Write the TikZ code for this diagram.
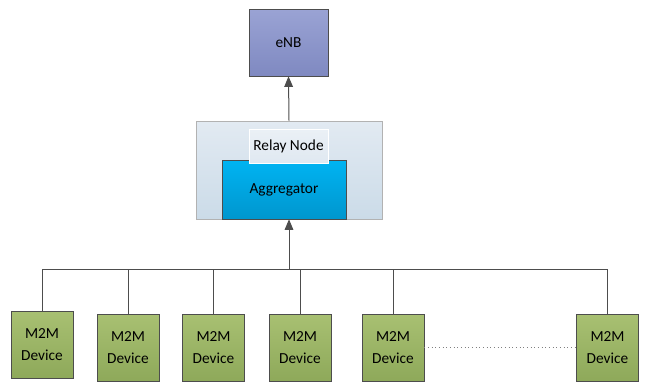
\documentclass[tikz,border=0pt]{standalone}
\usepackage{fontspec}
\setmainfont{Carlito}
\usetikzlibrary{arrows.meta}
\definecolor{linegray}{HTML}{4D4D4D}
\definecolor{enbtop}{HTML}{9AA3D4}
\definecolor{enbbot}{HTML}{7F89C1}
\definecolor{relaytop}{HTML}{E2EAF2}
\definecolor{relaybot}{HTML}{CBDBE8}
\definecolor{aggtop}{HTML}{00B4F2}
\definecolor{aggbot}{HTML}{0096CE}
\definecolor{devtop}{HTML}{A8C072}
\definecolor{devbot}{HTML}{8EA95A}
\tikzset{
  box/.style={draw=linegray, inner sep=0pt, font=\fontsize{11.5}{16}\selectfont, align=center},
  device/.style={box, minimum width=46.5pt, minimum height=50.25pt, top color=devtop, bottom color=devbot},
  link/.style={draw=linegray, line width=0.75pt},
}
\begin{document}
\begin{tikzpicture}[x=0.75pt, y=-0.75pt]
  \useasboundingbox (0,0) rectangle (646,382);
  % base station
  \node [box, minimum width=59.25pt, minimum height=50.25pt, top color=enbtop, bottom color=enbbot] (enb) at (288.5,42.5) {eNB};
  % relay with aggregator
  \node [box, draw=gray!60, minimum width=139.5pt, minimum height=73.5pt, top color=relaytop, bottom color=relaybot] (relay) at (289,170) {};
  \node [box, minimum width=93pt, minimum height=44.25pt, top color=aggtop, bottom color=aggbot] (agg) at (284,189.5) {Aggregator};
  \node [box, draw=white, minimum width=59.25pt, minimum height=25.5pt, top color=relaytop!70!white, bottom color=relaytop!90!relaybot] (label) at (288.5,146) {Relay Node};
  % devices
  \node [device] (dev1) at (42,344.5) {M2M\\Device};
  \node [device] (dev2) at (128,347.5) {M2M\\Device};
  \node [device] (dev3) at (213.5,347.5) {M2M\\Device};
  \node [device] (dev4) at (300,347.5) {M2M\\Device};
  \node [device] (dev5) at (393,347.5) {M2M\\Device};
  \node [device] (dev6) at (607.5,347.5) {M2M\\Device};
  \coordinate (bus) at (0,269);
  % bus
  \draw [link] (dev1.north) -- (dev1.north |- bus) -- (dev6.north |- bus) -- (dev6.north);
  \foreach \d in {dev2,dev3,dev4,dev5}
    \draw [link] (\d.north) -- (\d.north |- bus);
  \draw [link, dotted, draw=gray] (dev5.east) -- (dev6.west);
  % uplinks
  \draw [link, -{Triangle[length=8pt,width=6.5pt]}] (relay.south |- bus) -- (relay.south);
  \draw [link, -{Triangle[length=8pt,width=6.5pt]}] (relay.north) -- (enb.south);
\end{tikzpicture}
\end{document}
